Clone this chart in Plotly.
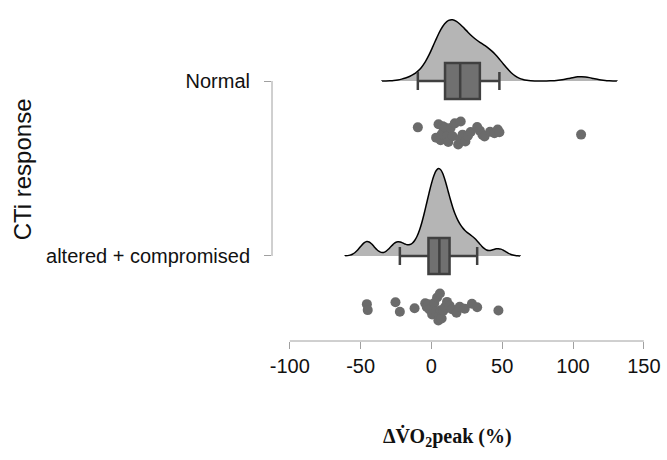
import numpy as np
import plotly.graph_objects as go

# ---- data ----
groups = ["altered + compromised", "Normal"]
group_pos = [0, 1]

normal_vals = [-9.6, 3.3, 5.0, 6.5, 7.2, 8.0, 8.4, 9.6, 11.0, 11.9, 13.5, 15.0,
               16.5, 18.9, 20.3, 20.7, 22.0, 24.0, 25.8, 27.7, 32.3, 34.2, 36.0,
               37.5, 41.4, 44.5, 46.8, 48.0, 105.7]
altered_vals = [-45.6, -45.0, -25.4, -22.3, -11.9, -4.4, -3.3, -2.1, -1.4, 0.5,
                2.0, 3.3, 4.0, 4.9, 5.6, 6.0, 6.5, 7.2, 8.4, 9.6, 11.0, 12.8,
                14.5, 17.7, 20.0, 23.5, 28.6, 32.3, 47.3]
group_vals = [altered_vals, normal_vals]

x_ticks = [-100, -50, 0, 50, 100, 150]
x_ticktext = [str(v) for v in x_ticks]

# ---- styling ----
cloud_fill = "#b5b5b5"
box_fill = "#707070"
box_line = "#404040"
dot_color = "#6b6b6b"
axis_gray = "#a0a0a0"
cloud_width = [1.0, 0.70]   # half-violin scale per group
rain_offset = 0.29


def bw_nrd0(v):
    v = np.asarray(v, float)
    sd = v.std(ddof=1)
    q1, q3 = np.percentile(v, [25, 75])
    return 0.9 * min(sd, (q3 - q1) / 1.34) * len(v) ** -0.2


fig = go.Figure()
for pos, vals, w in zip(group_pos, group_vals, cloud_width):
    bw = bw_nrd0(vals)
    fig.add_trace(go.Violin(
        x=vals, y0=pos, orientation="h", side="positive", width=w,
        bandwidth=bw, spanmode="manual",
        span=[min(vals) - 3 * bw, max(vals) + 3 * bw],
        points=False, box_visible=False, meanline_visible=False,
        fillcolor=cloud_fill, line=dict(color="black", width=1.5),
        opacity=1, showlegend=False, hoverinfo="skip"))
    fig.add_trace(go.Box(
        x=vals, y0=pos, orientation="h", width=0.206, whiskerwidth=0.5,
        quartilemethod="inclusive", boxpoints="outliers",
        marker=dict(color="rgba(0,0,0,0)", size=1),
        fillcolor=box_fill, line=dict(color=box_line, width=2.5),
        showlegend=False, hoverinfo="skip"))
    fig.add_trace(go.Box(
        x=vals, y0=pos - rain_offset, orientation="h", width=0.17,
        boxpoints="all", jitter=1, pointpos=0,
        fillcolor="rgba(0,0,0,0)", line=dict(color="rgba(0,0,0,0)", width=0),
        marker=dict(color=dot_color, size=10, opacity=1),
        showlegend=False, hoverinfo="skip"))

# R-style axis lines spanning the tick range only
fig.add_shape(type="line", xref="x", yref="paper", x0=x_ticks[0], x1=x_ticks[-1],
              y0=0, y1=0, line=dict(color=axis_gray, width=1))
fig.add_shape(type="line", xref="paper", yref="y", x0=0, x1=0,
              y0=group_pos[0], y1=group_pos[-1], line=dict(color=axis_gray, width=1))

fig.update_layout(
    width=667, height=460,
    margin=dict(l=272, r=7, t=10, b=119),
    plot_bgcolor="white", paper_bgcolor="white",
    boxmode="overlay", violinmode="overlay",
    font=dict(family="Liberation Sans, Arial", color="#111111"),
    xaxis=dict(range=[-112.6, 158.6], tickvals=x_ticks, ticktext=x_ticktext,
               ticks="outside", ticklen=7, tickcolor=axis_gray, showline=False,
               showgrid=False, zeroline=False, tickfont=dict(size=20, color="#111111")),
    yaxis=dict(range=[-0.486, 1.406], tickvals=group_pos, ticktext=groups,
               ticks="outside", ticklen=7, tickcolor=axis_gray, showline=False,
               showgrid=False, zeroline=False, ticklabelstandoff=10,
               tickfont=dict(size=20, color="#111111")),
    annotations=[
        dict(text="CTi response", xref="paper", yref="paper", x=-0.649, y=0.518,
             textangle=-90, showarrow=False, xanchor="center", yanchor="middle",
             font=dict(size=24, color="#111111")),
        dict(text="<b>ΔV̇O<sub>2</sub>peak (%)</b>", xref="paper", yref="paper",
             x=0.456, y=-0.29, showarrow=False, xanchor="center", yanchor="middle",
             font=dict(size=20, family="Liberation Serif, Times New Roman", color="#111111")),
    ],
)

fig.write_html(
    "out.html",
    config={"displayModeBar": False},
    post_script="document.body.style.margin='0';document.body.style.overflow='hidden';",
)
